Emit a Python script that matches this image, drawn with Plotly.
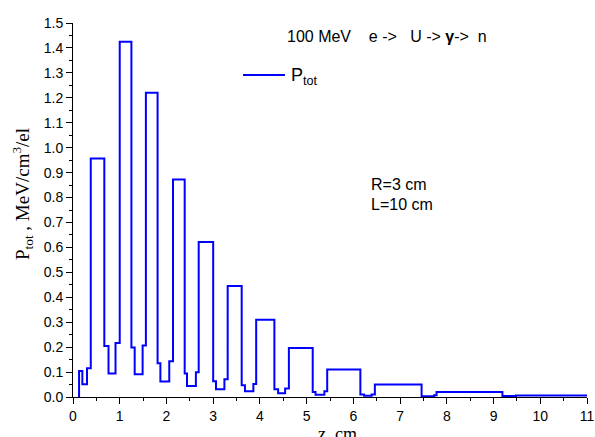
import plotly.graph_objects as go

# Step edges (z, cm) and P_tot values (MeV/cm^3/el) on each step
z_edges = [0.13, 0.20, 0.30, 0.38, 0.67, 0.76, 0.91, 1.00, 1.25, 1.32, 1.49, 1.56,
           1.81, 1.87, 2.06, 2.14, 2.39, 2.44, 2.63, 2.69, 3.00, 3.06, 3.24, 3.31,
           3.61, 3.68, 3.86, 3.92, 4.31, 4.39, 4.54, 4.62, 5.13, 5.19, 5.38, 5.44,
           6.15, 6.23, 6.39, 6.46, 7.46, 7.73, 7.78, 9.19, 9.48]
p_tot = [0.104, 0.051, 0.115, 0.957, 0.205, 0.094, 0.217, 1.425, 0.199, 0.091, 0.207, 1.220,
         0.135, 0.062, 0.143, 0.872, 0.094, 0.044, 0.099, 0.622, 0.063, 0.031, 0.071, 0.445,
         0.047, 0.023, 0.052, 0.310, 0.031, 0.015, 0.034, 0.197, 0.020, 0.009, 0.023, 0.110,
         0.010, 0.005, 0.010, 0.050, 0.003, 0.007, 0.020, 0.004, 0.006]
z_end = 11.0
z_start = 0.13

x_tick_vals = list(range(0, 12))
y_tick_vals = [round(i * 0.1, 1) for i in range(16)]

xs = [z_start] + z_edges + [z_end]
ys = [0.0] + p_tot + [p_tot[-1]]

fig = go.Figure()
fig.add_trace(go.Scatter(x=xs, y=ys, mode="lines", line_shape="hv",
                         line=dict(color="#0000FF", width=2), name="P<sub>tot</sub>",
                         showlegend=False, cliponaxis=False, hoverinfo="skip"))

axis_common = dict(showgrid=False, zeroline=False, showline=True, linecolor="black",
                   linewidth=1, ticks="outside", tickcolor="black", tickwidth=1,
                   ticklen=6, mirror=False, automargin=False,
                   tickfont=dict(family="Arial, Liberation Sans", size=14, color="black"))

fig.update_xaxes(range=[0, 11], tickvals=x_tick_vals, ticklabeloverflow="allow",
                 minor=dict(dtick=0.5, ticks="outside", ticklen=3, tickcolor="black"),
                 **axis_common)
fig.update_yaxes(range=[0, 1.5], tickvals=y_tick_vals, tickformat=".1f",
                 minor=dict(dtick=0.05, ticks="outside", ticklen=3, tickcolor="black"),
                 **axis_common)

W, H = 595, 437
L, R, T, B = 73, 8, 23, 40
pw, ph = W - L - R, H - T - B

def px(xp):
    return (xp - L) / pw

def py(yp):
    return (H - B - yp) / ph

nb = "\u00a0"
fig.add_annotation(xref="paper", yref="paper", x=px(285), y=py(36), xanchor="left",
                   yanchor="middle", showarrow=False,
                   text="100 MeV" + nb * 4 + "e ->" + nb * 3 + "U -> <b>γ</b>->" + nb * 2 + "n",
                   font=dict(family="Arial, Liberation Sans", size=16, color="black"))

# legend
fig.add_shape(type="line", xref="paper", yref="paper", x0=px(243), x1=px(285),
              y0=py(75), y1=py(75), line=dict(color="#0000FF", width=2))
fig.add_annotation(xref="paper", yref="paper", x=px(289), y=py(76), xanchor="left",
                   yanchor="middle", showarrow=False, text="P<sub>tot</sub>",
                   font=dict(family="Arial, Liberation Sans", size=18, color="black"))

fig.add_annotation(xref="paper", yref="paper", x=px(369), y=py(184), xanchor="left",
                   yanchor="middle", showarrow=False, text="R=3 cm",
                   font=dict(family="Arial, Liberation Sans", size=16, color="black"))
fig.add_annotation(xref="paper", yref="paper", x=px(369), y=py(204), xanchor="left",
                   yanchor="middle", showarrow=False, text="L=10 cm",
                   font=dict(family="Arial, Liberation Sans", size=16, color="black"))

# axis titles
fig.add_annotation(xref="paper", yref="paper", x=px(22), y=py(194), xanchor="center",
                   yanchor="middle", showarrow=False, textangle=-90,
                   text="P<sub>tot</sub> , MeV/cm<sup>3</sup>/el",
                   font=dict(family="Liberation Serif, Times New Roman, serif", size=19,
                             color="black"))
fig.add_annotation(xref="paper", yref="paper", x=px(337), y=py(422), xanchor="center",
                   yanchor="top", showarrow=False, text="z, cm",
                   font=dict(family="Liberation Serif, Times New Roman, serif", size=18,
                             color="black"))

fig.update_layout(width=W, height=H, margin=dict(l=L, r=R, t=T, b=B),
                  plot_bgcolor="white", paper_bgcolor="white", showlegend=False,
                  hovermode=False)

fig.write_html("out.html", config={"displayModeBar": False},
               post_script="document.body.style.margin='0';document.body.style.overflow='hidden';")
